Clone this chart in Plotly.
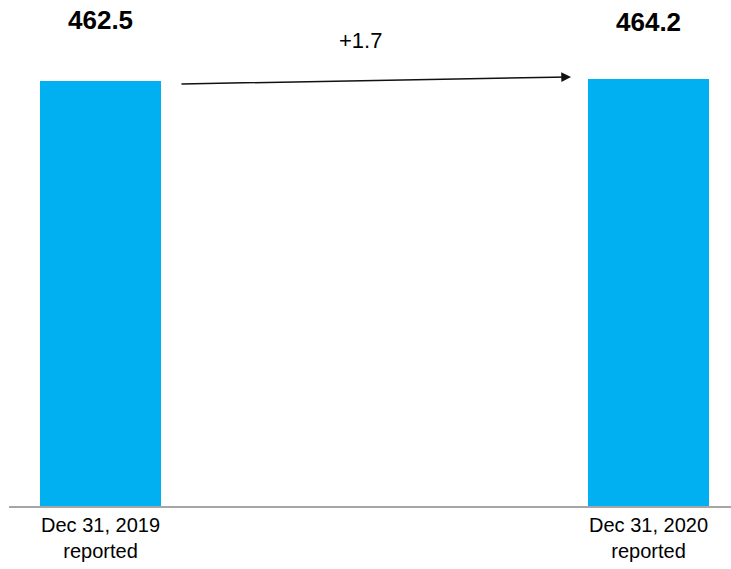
import plotly.graph_objects as go

categories = ["Dec 31, 2019<br>reported", "Dec 31, 2020<br>reported"]
values = [462.5, 464.2]
value_labels = ["462.5", "464.2"]
delta_label = "+1.7"

W, H = 731, 569
bar_color = "#00B0F0"
font_family = "Liberation Sans, Arial, sans-serif"

fig = go.Figure()
fig.add_trace(go.Bar(
    x=[0, 1], y=values,
    width=0.2208,
    marker=dict(color=bar_color, line=dict(width=0)),
    hoverinfo="skip",
))

# value labels above bars
for i, (v, t) in enumerate(zip(values, value_labels)):
    fig.add_annotation(
        x=i, y=[0.9595, 0.957][i], xref="x", yref="paper",
        text=f"<b>{t}</b>", showarrow=False,
        font=dict(size=26, color="black", family=font_family),
        xanchor="center", yanchor="middle",
    )

# delta arrow between bars
fig.add_annotation(
    x=0.8586, y=values[1] + 2.7, xref="x", yref="y",
    ax=0.145, ay=values[0] - 3.3, axref="x", ayref="y",
    showarrow=True, arrowhead=2, arrowsize=1.3, arrowwidth=1.5,
    arrowcolor="#111111", text="", standoff=0, startstandoff=0,
)
fig.add_annotation(
    x=0.474, y=0.919, xref="x", yref="paper",
    text=delta_label, showarrow=False,
    font=dict(size=22, color="black", family=font_family),
    xanchor="center", yanchor="middle",
)

fig.update_layout(
    width=W, height=H,
    margin=dict(l=9, r=0, t=0, b=63),
    plot_bgcolor="white", paper_bgcolor="white",
    showlegend=False,
    bargap=0,
    xaxis=dict(
        range=[-0.167, 1.1505],
        tickvals=[0, 1], ticktext=categories,
        showgrid=False, zeroline=False,
        showline=True, linecolor="#A6A6A6", linewidth=2,
        ticks="", tickfont=dict(size=20, color="black", family=font_family),
        fixedrange=True,
    ),
    yaxis=dict(
        range=[0, 550.6], visible=False, showgrid=False, zeroline=False,
        fixedrange=True,
    ),
)

fig.write_html("out.html")
